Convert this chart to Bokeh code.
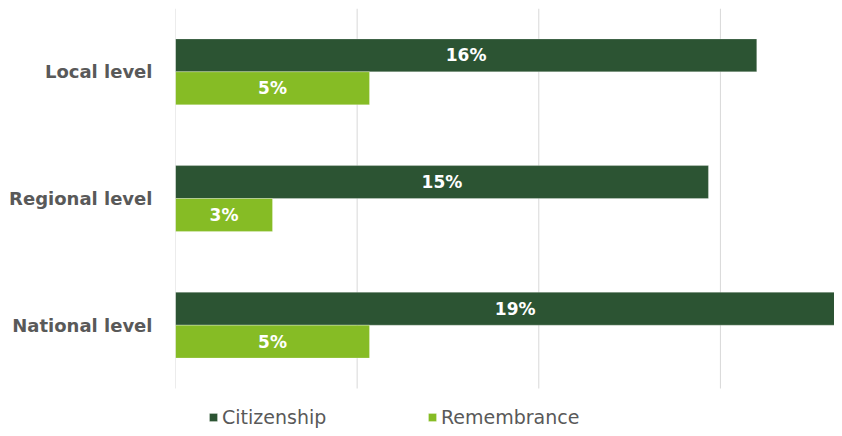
from bokeh.plotting import figure
from bokeh.models import ColumnDataSource, FixedTicker, Legend, LegendItem, Range1d
from bokeh.transform import dodge
from bokeh.core.properties import value
from bokeh.embed import file_html
from bokeh.resources import INLINE

levels = ["Local level", "Regional level", "National level"]
citizenship = [16.0, 14.67, 18.7]
remembrance = [5.34, 2.67, 5.34]
series_names = ["Citizenship", "Remembrance"]
x_ticks = [0, 5, 10, 15, 20]

DARK = "#2C5433"
LIGHT = "#86BC25"

n = len(levels)
pos = list(range(n))[::-1]          # Local level on top

src = ColumnDataSource(dict(
    pos=pos,
    cit=citizenship,
    rem=remembrance,
    cit_mid=[v / 2 for v in citizenship],
    rem_mid=[v / 2 for v in remembrance],
    cit_lbl=[f"{round(v)}%" for v in citizenship],
    rem_lbl=[f"{round(v)}%" for v in remembrance],
))
grid_src = ColumnDataSource(dict(x=x_ticks, y0=[-0.5] * len(x_ticks), y1=[n - 0.5] * len(x_ticks)))

# frame: 8px top gap, runs to bottom so the legend can sit inside it
p = figure(width=834, height=428, output_backend="svg", toolbar_location=None,
           y_range=Range1d(n - 0.5 - 420 / 126.67, n - 0.5),
           x_range=(0, 18.14), x_axis_location=None,
           min_border_left=175, min_border_right=0, min_border_top=8, min_border_bottom=0)
p.outline_line_color = None
p.xgrid.grid_line_color = None
p.ygrid.grid_line_color = None

p.segment(x0="x", x1="x", y0="y0", y1="y1", source=grid_src,
          line_color="#D9D9D9", line_width=1)

r1 = p.hbar(y=dodge("pos", 0.13), right="cit", left=0, height=0.26,
            source=src, fill_color=DARK, line_color="#ffffff", line_width=0.5, line_alpha=0.5)
r2 = p.hbar(y=dodge("pos", -0.13), right="rem", left=0, height=0.26,
            source=src, fill_color=LIGHT, line_color="#ffffff", line_width=0.5, line_alpha=0.5)

p.text(x="cit_mid", y=dodge("pos", 0.13), text="cit_lbl", source=src,
       text_color="white", text_font=value("DejaVu Sans"), text_font_style="bold",
       text_font_size="17px", text_align="center", text_baseline="middle")
p.text(x="rem_mid", y=dodge("pos", -0.13), text="rem_lbl", source=src,
       text_color="white", text_font=value("DejaVu Sans"), text_font_style="bold",
       text_font_size="17px", text_align="center", text_baseline="middle")

ya = p.yaxis[0]
ya.ticker = FixedTicker(ticks=pos)
ya.major_label_overrides = {pp: name for pp, name in zip(pos, levels)}
ya.axis_line_color = None
ya.major_tick_line_color = None
ya.minor_tick_line_color = None
ya.major_label_standoff = 17
ya.major_label_text_font = "DejaVu Sans"
ya.major_label_text_font_style = "bold"
ya.major_label_text_font_size = "18px"
ya.major_label_text_color = "#595959"

legend = Legend(items=[LegendItem(label=series_names[0], renderers=[r1]),
                       LegendItem(label=series_names[1], renderers=[r2])],
                orientation="horizontal", location=(33, 0))
legend.border_line_color = None
legend.background_fill_alpha = 0
legend.padding = 0
legend.margin = 0
legend.spacing = 0
legend.glyph_width = 10
legend.glyph_height = 10
legend.label_standoff = 4
legend.label_width = 205
legend.label_height = 20
legend.label_text_font = "DejaVu Sans"
legend.label_text_font_size = "19px"
legend.label_text_color = "#595959"
p.add_layout(legend, "center")

open("out.html", "w").write(file_html(p, INLINE))
